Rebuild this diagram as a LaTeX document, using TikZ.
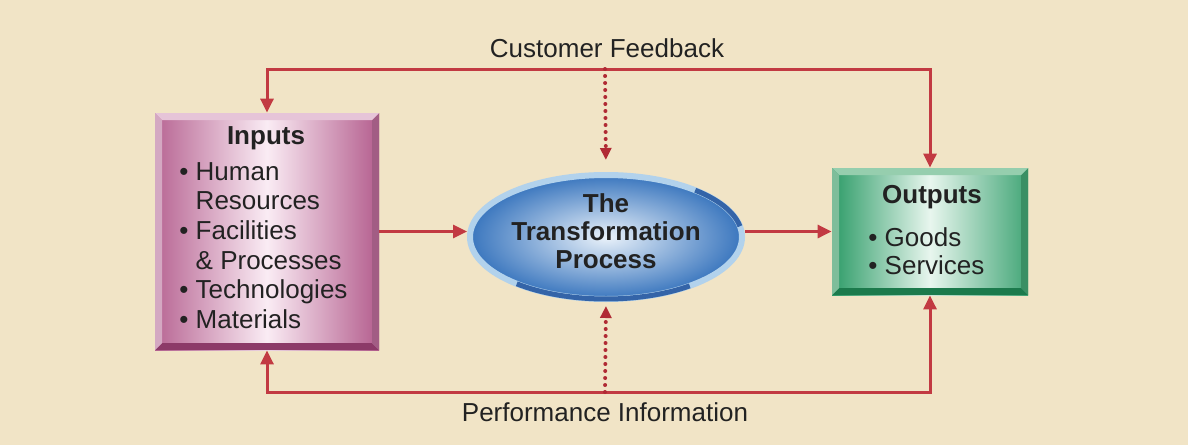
\documentclass[tikz,border=0pt]{standalone}
\usepackage{fontspec}
\setmainfont{Liberation Sans}
\usetikzlibrary{arrows.meta,shapes.geometric}
\definecolor{bgcream}{RGB}{241,228,198}
\definecolor{flowred}{RGB}{194,58,66}
\definecolor{dotred}{RGB}{176,42,52}
\definecolor{inmag}{RGB}{180,94,142}
\definecolor{inlight}{RGB}{250,236,244}
\definecolor{indark}{RGB}{140,58,104}
\definecolor{intop}{RGB}{230,196,216}
\definecolor{outgreen}{RGB}{46,156,104}
\definecolor{outlight}{RGB}{232,246,238}
\definecolor{outdark}{RGB}{28,122,76}
\definecolor{outtop}{RGB}{150,206,174}
\definecolor{procblue}{RGB}{58,118,190}
\definecolor{proclight}{RGB}{234,242,250}
\definecolor{procring}{RGB}{178,210,236}
\definecolor{procdark}{RGB}{52,100,168}
\definecolor{txtgray}{RGB}{34,34,34}

\begin{document}
\begin{tikzpicture}[x=0.5pt,y=-0.5pt,text=txtgray]
\tikzset{
  bevel/.style n args={3}{path picture={
    \fill[#1] (path picture bounding box.south west) -- (path picture bounding box.south east)
      -- ([shift={(-#3,#3)}]path picture bounding box.south east) -- ([shift={(#3,#3)}]path picture bounding box.south west) -- cycle;
    \fill[#1!75!#2] (path picture bounding box.south east) -- (path picture bounding box.north east)
      -- ([shift={(-#3,-#3)}]path picture bounding box.north east) -- ([shift={(-#3,#3)}]path picture bounding box.south east) -- cycle;
    \fill[#2] (path picture bounding box.north west) -- (path picture bounding box.north east)
      -- ([shift={(-#3,-#3)}]path picture bounding box.north east) -- ([shift={(#3,-#3)}]path picture bounding box.north west) -- cycle;
    \fill[#2!80!#1] (path picture bounding box.north west) -- (path picture bounding box.south west)
      -- ([shift={(#3,#3)}]path picture bounding box.south west) -- ([shift={(#3,-#3)}]path picture bounding box.north west) -- cycle;
  }},
  inbox/.style={rectangle,inner sep=0pt,minimum width=112pt,minimum height=118.5pt,
    left color=inmag!95,right color=inmag,middle color=inlight,bevel={indark}{intop}{3.5pt}},
  outbox/.style={rectangle,inner sep=0pt,minimum width=98pt,minimum height=63.5pt,
    left color=outgreen,right color=outgreen!90,middle color=outlight,bevel={outdark}{outtop}{3.5pt}},
  procell/.style={ellipse,inner sep=0pt,minimum width=136pt,minimum height=62pt,
    draw=procring,line width=3pt,inner color=proclight,outer color=procblue},
  procarc/.style={draw=procdark,line width=2.5pt},
  boxtitle/.style={inner sep=0pt,font=\fontsize{13}{14}\selectfont\bfseries},
  itemlist/.style={inner sep=0pt,align=left,font=\fontsize{13}{14.8}\selectfont},
  looplabel/.style={inner sep=0pt,font=\fontsize{13}{14.8}\selectfont},
  flowline/.style={draw=flowred,line width=1.5pt,>={Triangle[length=7pt,width=6.5pt]}},
  dotline/.style={draw=dotred,line width=2pt,line cap=round,dash pattern=on 0pt off 3.5pt,
    >={Triangle[length=6pt,width=5.5pt]}}
}
\fill[bgcream] (0,0) rectangle (1188,445);
\useasboundingbox (0,0) rectangle (1188,445);
\node[inbox] (n_inputs) at (267,231.5) {};
\node[outbox] (n_outputs) at (930,231.5) {};
\node[procell] (n_process) at (606,237) {};
\draw[procarc] (n_process.center) ++(-131:68pt and 31pt) arc[start angle=-131,end angle=-52,x radius=68pt,y radius=31pt];
\draw[procarc] (n_process.center) ++(10:68pt and 31pt) arc[start angle=10,end angle=49,x radius=68pt,y radius=31pt];
\node[boxtitle] (n_inputs_title) at (266,138) {Inputs};
\node[itemlist,anchor=north west] (n_inputs_list) at (179,162)
  {\textbullet\ Human\\\phantom{\textbullet\ }Resources\\\textbullet\ Facilities\\\phantom{\textbullet\ }\& Processes\\\textbullet\ Technologies\\\textbullet\ Materials};
\node[boxtitle,align=center] (n_process_text) at (606,231) {The\\Transformation\\Process};
\node[boxtitle] (n_outputs_title) at (932,197) {Outputs};
\node[itemlist,anchor=north west,font=\fontsize{13}{14}\selectfont] (n_outputs_list) at (868,227) {\textbullet\ Goods\\\textbullet\ Services};
\node[looplabel] (n_feedback) at (607,48) {Customer Feedback};
\node[looplabel] (n_perfinfo) at (605,412) {Performance Information};
\coordinate (c_fbtop) at (605,69);
\coordinate (c_pibot) at (605,392);
\draw[flowline,<->] (n_inputs.north) |- (c_fbtop) -| (n_outputs.north);
\draw[flowline,<->] (n_inputs.south) |- (c_pibot) -| (n_outputs.south);
\draw[flowline,->] (n_inputs.east) -- (n_process.west |- n_inputs.east);
\draw[flowline,->] (n_process.east |- n_outputs.west) -- (n_outputs.west);
\draw[dotline,->,shorten >=6pt] (c_fbtop) -- (n_process.north);
\draw[dotline,->,shorten >=2pt] (c_pibot) -- (n_process.south);
\end{tikzpicture}
\end{document}
